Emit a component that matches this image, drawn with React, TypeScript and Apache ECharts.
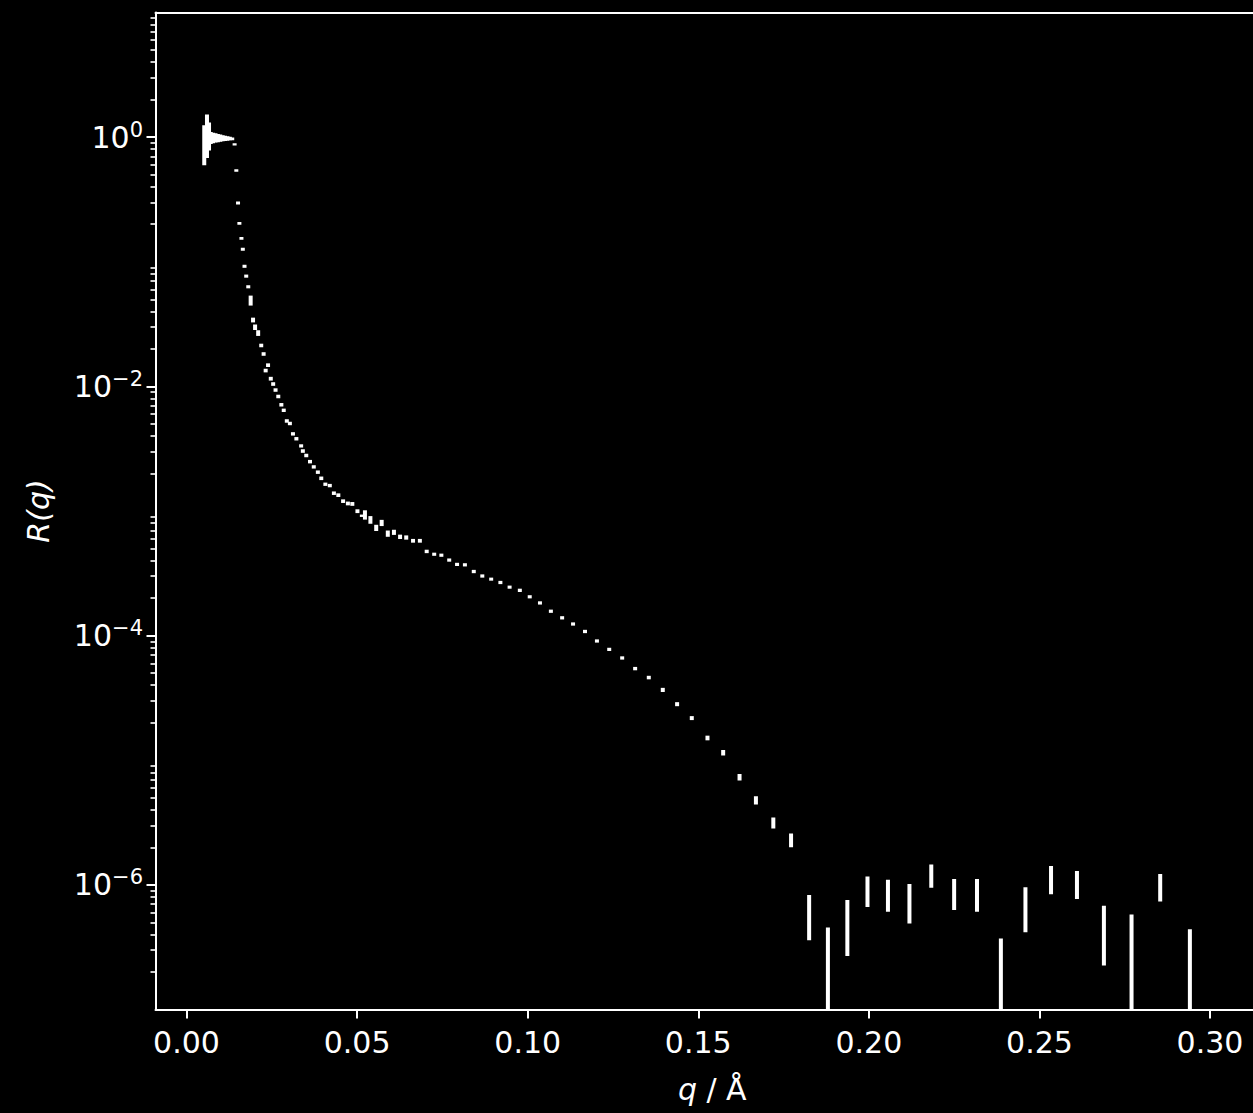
import React, { useEffect, useRef } from 'react';
import * as echarts from 'echarts';

// q (1/Å), reflectivity R and its uncertainty dR
const qValues = [
  0.0052, 0.0060, 0.0066, 0.0071, 0.0078, 0.0085, 0.0092, 0.0099, 0.0106, 0.0113,
  0.0120, 0.0127, 0.0134, 0.0141, 0.0146, 0.0151, 0.0155, 0.0161, 0.0165, 0.0170,
  0.0175, 0.0181, 0.0188, 0.0195, 0.0201, 0.0210, 0.0219, 0.0226, 0.0232, 0.0239,
  0.0247, 0.0254, 0.0261, 0.0269, 0.0278, 0.0285, 0.0294, 0.0303, 0.0312, 0.0322,
  0.0336, 0.0341, 0.0351, 0.0362, 0.0373, 0.0385, 0.0395, 0.0407, 0.0420, 0.0432,
  0.0445, 0.0459, 0.0473, 0.0486, 0.0501, 0.0514, 0.0523, 0.0539, 0.0556, 0.0572,
  0.0590, 0.0608, 0.0626, 0.0644, 0.0664, 0.0684, 0.0704, 0.0726, 0.0747, 0.0770,
  0.0793, 0.0816, 0.0842, 0.0867, 0.0893, 0.0920, 0.0947, 0.0977, 0.1006, 0.1036,
  0.1068, 0.1101, 0.1133, 0.1168, 0.1203, 0.1239, 0.1277, 0.1315, 0.1355, 0.1396,
  0.1438, 0.1481, 0.1527, 0.1573, 0.1621, 0.1669, 0.1720, 0.1772, 0.1825, 0.1880,
  0.1937, 0.1996, 0.2056, 0.2119, 0.2183, 0.2250, 0.2317, 0.2387, 0.2459, 0.2534,
  0.2610, 0.2689, 0.2770, 0.2854, 0.2941,
];

const rValues = [
  0.92, 1.10, 1.045, 0.99, 0.99, 0.99, 0.985, 0.985, 0.98, 0.98,
  0.975, 0.975, 0.97, 0.875, 0.54, 0.296, 0.203, 0.154, 0.126, 0.092,
  0.0767, 0.063, 0.049, 0.0341, 0.0299, 0.0268, 0.0213, 0.0182, 0.0134, 0.0148,
  0.01153, 0.01045, 0.00935, 0.0083, 0.00712, 0.00643, 0.00528, 0.00504, 0.00416, 0.0038,
  0.00333, 0.00303, 0.00279, 0.00249, 0.00226, 0.00205, 0.00183, 0.00164, 0.0016, 0.00139,
  0.00134, 0.0012, 0.00115, 0.00114, 0.000997, 0.000916, 0.000933, 0.00085, 0.000733, 0.000803,
  0.000659, 0.000675, 0.000621, 0.000613, 0.000577, 0.000577, 0.000474, 0.00045, 0.000442, 0.000404,
  0.000373, 0.00037, 0.000327, 0.000301, 0.000284, 0.000267, 0.000245, 0.000231, 0.000205, 0.000183,
  0.000157, 0.000139, 0.000124, 0.000108, 9.06e-5, 7.76e-5, 6.62e-5, 5.44e-5, 4.61e-5, 3.67e-5,
  2.82e-5, 2.18e-5, 1.51e-5, 1.15e-5, 7.32e-6, 4.78e-6, 3.15e-6, 2.29e-6, 5.95e-7, 1.8e-7,
  5.13e-7, 9.16e-7, 8.55e-7, 7.53e-7, 1.205e-6, 8.72e-7, 8.62e-7, 1.0e-7, 6.87e-7, 1.13e-6,
  1.03e-6, 4.53e-7, 2.5e-7, 9.79e-7, 1.5e-7,
];

const dRValues = [
  0.325, 0.42, 0.265, 0.11, 0.095, 0.085, 0.075, 0.065, 0.055, 0.047,
  0.04, 0.033, 0.025, 0.02, 0.012, 0.008, 0.005, 0.004, 0.0035, 0.0026,
  0.0022, 0.0018, 0.0045, 0.0015, 0.0015, 0.0014, 0.0007, 0.0006, 0.00045, 0.0005,
  0.0004, 0.00035, 0.0003, 0.00027, 0.00023, 0.0002, 0.00017, 0.00016, 0.00013, 0.00012,
  0.0001, 0.0001, 0.00009, 0.00008, 0.00007, 0.000065, 0.00006, 0.00005, 0.00005, 0.000045,
  0.000045, 0.00004, 0.00004, 0.00004, 0.000035, 0.00002, 0.00008, 0.00006, 0.000042, 0.000046,
  0.000038, 0.000032, 0.000025, 0.000024, 0.00002, 0.00002, 0.000015, 0.000013, 0.000013, 0.000012,
  0.000011, 0.000011, 0.00001, 0.000009, 0.000008, 0.000008, 0.000007, 0.000007, 0.000006, 0.0000055,
  0.0000047, 0.0000042, 0.0000037, 0.0000033, 2.7e-6, 2.3e-6, 2.0e-6, 1.7e-6, 1.5e-6, 1.4e-6,
  1.05e-6, 0.8e-6, 0.65e-6, 0.58e-6, 4.4e-7, 3.7e-7, 3.2e-7, 2.9e-7, 2.35e-7, 2.75e-7,
  2.44e-7, 2.51e-7, 2.45e-7, 2.63e-7, 2.55e-7, 2.42e-7, 2.52e-7, 2.72e-7, 2.7e-7, 2.88e-7,
  2.6e-7, 2.28e-7, 3.28e-7, 2.44e-7, 2.9e-7,
];

const xTickValues = [0, 0.05, 0.1, 0.15, 0.2, 0.25, 0.3];
const yMajorTicks = [1e-6, 1e-4, 1e-2, 1];
const yMinorMultipliers = [2, 3, 4, 5, 6, 7, 8, 9];
const yDecades = [-7, -6, -5, -4, -3, -2, -1, 0];

const X_MIN = -0.00909;
const X_MAX = 0.31729;
const Y_MIN = 1e-7;
const Y_MAX = 10;

const FONT = 'DejaVu Sans';
const WHITE = '#ffffff';
const FS = 30;

function expLabel(v: number): string {
  const e = Math.round(Math.log10(v));
  const s = e < 0 ? '\u2212' + String(-e) : String(e);
  return '{b|10}{s|' + s + '}';
}

export default function App() {
  const ref = useRef<HTMLDivElement>(null);

  useEffect(() => {
    if (!ref.current) return;
    const chart = echarts.init(ref.current, undefined, { renderer: 'svg' });
    const yMinorTicks: number[] = [];
    yDecades.forEach((d) => {
      yMinorMultipliers.forEach((m) => {
        yMinorTicks.push(m * Math.pow(10, d));
      });
    });
    const data = qValues.map((q, i) => [q, rValues[i], dRValues[i]]);

    const option: any = {
      animation: false,
      backgroundColor: '#000000',
      grid: {
        left: 155.5,
        top: 12.5,
        right: -16,
        bottom: 103.5,
        containLabel: false,
        outerBoundsMode: 'none',
      },
      xAxis: [
        {
          type: 'value',
          min: X_MIN,
          max: X_MAX,
          position: 'bottom',
          axisLine: { show: true, onZero: false, lineStyle: { color: WHITE, width: 2 } },
          axisTick: {
            show: true,
            customValues: xTickValues,
            length: 9,
            lineStyle: { color: WHITE, width: 2 },
          },
          axisLabel: {
            show: true,
            customValues: xTickValues,
            formatter: (v: number) => v.toFixed(2),
            color: WHITE,
            fontSize: FS,
            fontFamily: FONT,
            margin: 18,
          },
          splitLine: { show: false },
          name: '{i|q} / Å',
          nameLocation: 'middle',
          nameGap: 65,
          nameTextStyle: {
            color: WHITE,
            fontSize: FS,
            fontFamily: FONT,
            rich: {
              i: { fontStyle: 'italic', fontSize: FS, fontFamily: FONT, color: WHITE },
            },
          },
        },
        {
          type: 'value',
          min: X_MIN,
          max: X_MAX,
          position: 'top',
          axisLine: { show: true, onZero: false, lineStyle: { color: WHITE, width: 2 } },
          axisTick: { show: false },
          axisLabel: { show: false },
          splitLine: { show: false },
        },
      ],
      yAxis: [
        {
          type: 'log',
          logBase: 10,
          min: Y_MIN,
          max: Y_MAX,
          position: 'left',
          axisLine: { show: true, onZero: false, lineStyle: { color: WHITE, width: 2 } },
          axisTick: {
            show: true,
            customValues: yMajorTicks,
            length: 9,
            lineStyle: { color: WHITE, width: 2 },
          },
          axisLabel: {
            show: true,
            customValues: yMajorTicks,
            formatter: expLabel,
            color: WHITE,
            margin: 12.5,
            rich: {
              b: { fontSize: FS, fontFamily: FONT, color: WHITE, lineHeight: 36 },
              s: {
                fontSize: 21,
                fontFamily: FONT,
                color: WHITE,
                lineHeight: 21,
                verticalAlign: 'top',
              },
            },
          },
          splitLine: { show: false },
          name: 'R(q)',
          nameLocation: 'middle',
          nameGap: 102,
          nameTextStyle: {
            color: WHITE,
            fontSize: FS,
            fontFamily: FONT,
            fontStyle: 'italic',
          },
        },
        {
          type: 'log',
          logBase: 10,
          min: Y_MIN,
          max: Y_MAX,
          position: 'left',
          axisLine: { show: false, onZero: false },
          axisTick: {
            show: true,
            customValues: yMinorTicks,
            length: 5,
            lineStyle: { color: WHITE, width: 1.6 },
          },
          axisLabel: { show: false },
          splitLine: { show: false },
        },
      ],
      series: [
        {
          type: 'custom',
          coordinateSystem: 'cartesian2d',
          xAxisIndex: 0,
          yAxisIndex: 0,
          clip: true,
          encode: { x: 0, y: 1 },
          data,
          renderItem: (_params: any, api: any) => {
            const q = api.value(0);
            const r = api.value(1);
            const e = api.value(2);
            const hi = Math.min(r + e, Y_MAX);
            const lo = Math.max(r - e, Y_MIN);
            const p1 = api.coord([q, hi]);
            const p2 = api.coord([q, lo]);
            return {
              type: 'rect',
              shape: { x: p1[0] - 2, y: p1[1], width: 4, height: p2[1] - p1[1] },
              style: { fill: WHITE },
            };
          },
        },
      ],
    };
    chart.setOption(option);
    return () => chart.dispose();
  }, []);

  return (
    <div
      ref={ref}
      style={{ position: 'absolute', left: 0, top: 0, width: 1253, height: 1113, background: '#000' }}
    />
  );
}
